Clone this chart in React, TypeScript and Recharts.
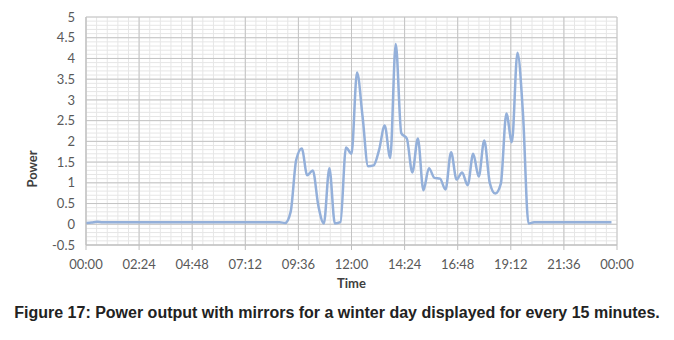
import { LineChart, CartesianGrid, XAxis, YAxis, Line, Label } from "recharts"

// power every 15 minutes, 00:00 .. 23:45
const power = [
    // 00:00 - 08:45
    0.03, 0.04, 0.06, 0.05, 0.05, 0.05, 0.05, 0.05, 0.05, 0.05, 0.05, 0.05,
    0.05, 0.05, 0.05, 0.05, 0.05, 0.05, 0.05, 0.05, 0.05, 0.05, 0.05, 0.05,
    0.05, 0.05, 0.05, 0.05, 0.05, 0.05, 0.05, 0.05, 0.05, 0.05, 0.05, 0.05,
    // 09:00 - 11:45
    0.03, 0.3, 1.55, 1.83, 1.18, 1.3, 0.45, 0.02, 1.35, 0.02, 0.05, 1.85,
    // 12:00 - 14:45
    1.7, 3.66, 2.6, 1.4, 1.42, 1.8, 2.38, 1.6, 4.35, 2.2, 2.07, 1.25,
    // 15:00 - 17:45
    2.07, 0.82, 1.35, 1.12, 1.1, 0.84, 1.74, 1.08, 1.25, 0.94, 1.7, 1.15,
    // 18:00 - 20:45
    2.02, 1.0, 0.74, 0.98, 2.67, 1.98, 4.14, 2.67, 0.02, 0.05, 0.05, 0.05,
    // 21:00 - 23:45
    0.05, 0.05, 0.05, 0.05, 0.05, 0.05, 0.05, 0.05, 0.05, 0.05, 0.05, 0.05,
]

const stepMinutes = 15
const xTicks = [0, 144, 288, 432, 576, 720, 864, 1008, 1152, 1296, 1440]
const xMinorTicks = [
    0, 28.8, 57.6, 86.4, 115.2, 144, 172.8, 201.6, 230.4, 259.2, 288, 316.8, 345.6, 374.4, 403.2,
    432, 460.8, 489.6, 518.4, 547.2, 576, 604.8, 633.6, 662.4, 691.2, 720, 748.8, 777.6, 806.4,
    835.2, 864, 892.8, 921.6, 950.4, 979.2, 1008, 1036.8, 1065.6, 1094.4, 1123.2, 1152, 1180.8,
    1209.6, 1238.4, 1267.2, 1296, 1324.8, 1353.6, 1382.4, 1411.2, 1440,
]
const yTicks = [-0.5, 0, 0.5, 1, 1.5, 2, 2.5, 3, 3.5, 4, 4.5, 5]
const yMinorTicks = [
    -0.5, -0.4, -0.3, -0.2, -0.1, 0, 0.1, 0.2, 0.3, 0.4, 0.5, 0.6, 0.7, 0.8, 0.9, 1, 1.1, 1.2,
    1.3, 1.4, 1.5, 1.6, 1.7, 1.8, 1.9, 2, 2.1, 2.2, 2.3, 2.4, 2.5, 2.6, 2.7, 2.8, 2.9, 3, 3.1,
    3.2, 3.3, 3.4, 3.5, 3.6, 3.7, 3.8, 3.9, 4, 4.1, 4.2, 4.3, 4.4, 4.5, 4.6, 4.7, 4.8, 4.9, 5,
]

const data = power.map((p, i) => ({ minute: i * stepMinutes, power: p }))

const fmtTime = (m: number) => {
    const t = Math.round(m) % 1440
    const h = Math.floor(t / 60)
    const mm = t % 60
    return String(h).padStart(2, "0") + ":" + String(mm).padStart(2, "0")
}

const tickStyle = { fontFamily: "Lato", fontSize: 13, fill: "#595959" }

const PowerLabel = () => (
    <text x={37} y={169} transform="rotate(-90 37 169)" textAnchor="middle"
        style={{ fontFamily: "Lato", fontSize: 13, fontWeight: 700, fill: "#404040" }}>
        Power
    </text>
)

// minor grid through the axis scales
const applyScale = (axis: any, v: number) => {
    const s = axis?.scale
    if (typeof s === "function") return s(v)
    if (s && typeof s.map === "function") return s.map(v)
    return undefined
}
const minorH = ({ yAxis }: any) =>
    yMinorTicks.map((v) => applyScale(yAxis, v)).filter((c) => typeof c === "number" && !isNaN(c))
const minorV = ({ xAxis }: any) =>
    xMinorTicks.map((v) => applyScale(xAxis, v)).filter((c) => typeof c === "number" && !isNaN(c))

export default function App() {
    return (
        <div style={{ position: "absolute", left: 0, top: 0, width: 674, height: 340, background: "#fff" }}>
            <LineChart width={674} height={300} data={data}
                margin={{ top: 17, right: 57, left: 0, bottom: 10 }}>
                <CartesianGrid stroke="#E6E6E6"
                    horizontalCoordinatesGenerator={minorH}
                    verticalCoordinatesGenerator={minorV} />
                <CartesianGrid stroke="#C4C4C4" />
                <XAxis dataKey="minute" type="number" domain={[0, 1440]} ticks={xTicks}
                    tickFormatter={fmtTime} interval={0} height={45}
                    stroke="#BFBFBF" tickSize={5} tickMargin={10} tick={tickStyle}>
                    <Label value="Time" position="insideBottom" offset={2}
                        style={{ fontFamily: "Lato", fontSize: 13, fontWeight: 700, fill: "#404040" }} />
                </XAxis>
                <YAxis type="number" domain={[-0.5, 5]} ticks={yTicks} interval={0} width={86}
                    stroke="#BFBFBF" tickLine={false} tickSize={0} tickMargin={11} tick={tickStyle}
                    label={<PowerLabel />} />
                <Line type="monotone" dataKey="power" stroke="#94B0DA" strokeWidth={2.5}
                    dot={false} isAnimationActive={false} />
            </LineChart>
            <div style={{
                position: "absolute", left: 0, top: 304, width: 674, textAlign: "center",
                fontFamily: "'Liberation Sans', Arial, sans-serif", fontWeight: 700, fontSize: 16,
                color: "#222",
            }}>
                Figure 17: Power output with mirrors for a winter day displayed for every 15 minutes.
            </div>
        </div>
    )
}
